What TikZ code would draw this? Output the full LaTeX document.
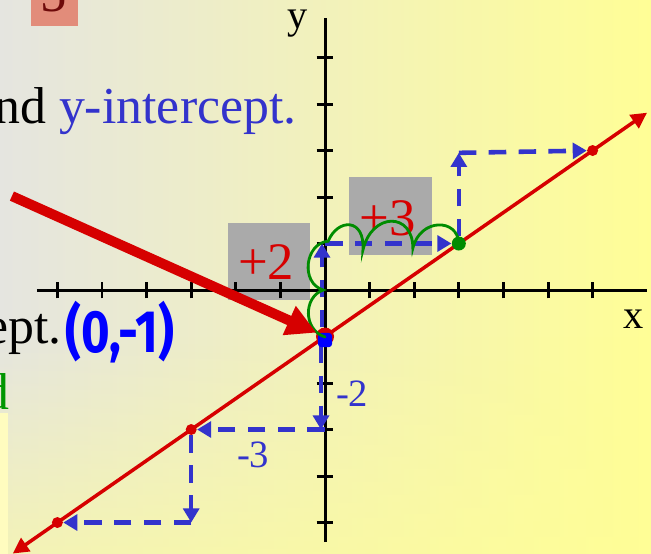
\documentclass[tikz,border=0pt]{standalone}
\usepackage{fontspec}
\setmainfont{Liberation Serif}
\newfontfamily\handfont{Fira Sans}
\usepackage{tikz}
\usetikzlibrary{arrows.meta, fadings}

\definecolor{slideblue}{RGB}{51,51,204}
\definecolor{slidegreen}{RGB}{0,150,0}
\definecolor{linered}{RGB}{214,0,0}
\definecolor{boxgrey}{RGB}{170,170,170}
\definecolor{tabsalmon}{RGB}{226,140,122}
\definecolor{tabred}{RGB}{110,10,10}
\definecolor{handblue}{RGB}{0,0,255}
\definecolor{inkgreen}{RGB}{0,140,0}
\definecolor{bggrey}{RGB}{229,229,224}
\definecolor{bgmid}{RGB}{240,238,196}
\definecolor{bgyellow}{RGB}{255,254,150}

\newcommand\slidefont{\fontsize{29.5}{32}\selectfont}

\begin{document}
\begin{tikzpicture}[x=0.892cm, y=0.93cm,
    tick/.style={line width=1.7pt},
    rise/.style={draw=slideblue, line width=2.6pt, dash pattern=on 10pt off 7pt,
      -{Triangle[length=8pt,width=9pt]}},
    dot/.style={circle, fill=linered, inner sep=0pt, minimum size=#1},
    count/.style={text=linered, font=\fontsize{30}{30}\selectfont},
    step label/.style={text=slideblue, font=\fontsize{22}{22}\selectfont}]
  % frame and slide background
  \useasboundingbox (-7.287,-5.656) rectangle (7.309,6.237);
  \clip (-7.287,-5.656) rectangle (7.309,6.237);
  \shade[left color=bggrey, middle color=bgmid, right color=bgyellow] (-7.3,-5.7) rectangle (7.31,6.24);
  \fill[bgyellow, opacity=0.55, path fading=north] (-7.3,-5.7) rectangle (7.31,-1);
  \fill[yellow!25] (-7.29,-2.65) rectangle (-7.11,-5.7);
  % slide number tab
  \fill[tabsalmon] (-6.59,5.68) rectangle (-5.54,6.6);
  \node[text=tabred, font=\fontsize{30}{30}\selectfont, anchor=base] (num) at (-6.08,5.98) {5};
  % grey boxes behind the counts
  \fill[boxgrey] (-2.17,-0.22) rectangle (-0.34,1.44);
  \fill[boxgrey] (0.54,0.75) rectangle (2.40,2.43);
  % axes with ticks
  \draw[tick] (-6.46,0) -- (7.22,0);
  \draw[tick] (0,-5.42) -- (0,5.85);
  \foreach \x in {-6,...,-1,1,2,...,6} {\draw[tick] (\x,-0.18) -- (\x,0.18);}
  \foreach \y in {-5,...,-1,1,2,...,5} {\draw[tick] (-0.19,\y) -- (0.19,\y);}
  \node[font=\fontsize{23}{23}\selectfont, anchor=base] (ylab) at (-0.61,5.63) {y};
  \node[font=\fontsize{23}{23}\selectfont, anchor=base] (xlab) at (6.93,-0.82) {x};
  % the line y = 2/3 x - 1
  \coordinate (lend) at (-7,-5.667);
  \coordinate (rend) at (7.22,3.813);
  \draw[linered, line width=2pt,
    {Triangle[length=9pt,width=9pt]}-{Triangle[length=9pt,width=9pt]}] (lend) -- (rend);
  % points on the line
  \node[dot=0.36cm] (p0) at (0,-1) {};
  \node[dot=0.28cm, fill=inkgreen] (p1) at (3,1) {};
  \node[dot=0.22cm] (p2) at (6,3) {};
  \node[dot=0.22cm] (m1) at (-3,-3) {};
  \node[dot=0.22cm] (m2) at (-6,-5) {};
  \coordinate (c1) at (0,1);
  \coordinate (c2) at (3,2.95);
  \coordinate (c3) at (0,-3);
  \coordinate (c4) at (-3,-5);
  % rise and run
  \draw[rise] ([xshift=-0.06cm]p0.north) -- ([xshift=-0.06cm]c1);
  \draw[rise] (c1) -- (p1);
  \draw[rise] (p1) -- (c2);
  \draw[rise] (c2) -- (p2);
  \draw[rise] ([xshift=-0.08cm]p0.south) -- ([xshift=-0.08cm]c3);
  \draw[rise] (c3) -- (m1);
  \draw[rise] (m1) -- (c4);
  \draw[rise] (c4) -- (m2);
  \node[count] (up2) at (-1.32,0.60) {+2};
  \node[count] (up3) at (1.41,1.55) {+3};
  \node[step label] (dn2) at (0.61,-2.22) {-2};
  \node[step label] (dn3) at (-1.61,-3.55) {-3};
  % handwritten marks
  \fill[handblue, rounded corners=2pt] (-0.16,-1.23) rectangle (0.16,-0.92);
  \draw[inkgreen, line width=1.6pt, line cap=round]
    (0,-1.01) .. controls (-0.49,-0.86) and (-0.49,-0.15) .. (-0.04,0)
    .. controls (-0.56,0.15) and (-0.45,1.01) .. (0.07,1.05)
    .. controls (0.29,1.55) and (0.90,1.55) .. (0.85,0.86)
    .. controls (1.05,1.68) and (1.97,1.68) .. (1.97,0.90)
    .. controls (2.13,1.55) and (2.98,1.55) .. (p1.center);
  \node[text=handblue, xscale=0.82, font=\handfont\bfseries\fontsize{34}{34}\selectfont] (pt) at (-4.60,-0.90) {(0,-1)};
  % pointer to the intercept
  \coordinate (tail) at (-7.02,2.02);
  \draw[linered, line width=5.7pt, -{Triangle[length=17pt,width=17pt]}] (tail) -- (p0);
  % slide text
  \node[anchor=base east, inner sep=0pt, font=\slidefont] (head) at (-0.63,3.59) {nd \textcolor{slideblue}{y-intercept.}};
  \node[anchor=base east, inner sep=0pt, font=\slidefont] (cut) at (-5.90,-1.16) {ept.};
  \node[anchor=base east, inner sep=0pt, font=\slidefont, text=slidegreen] (cutd) at (-7.06,-2.58) {d};
\end{tikzpicture}
\end{document}
